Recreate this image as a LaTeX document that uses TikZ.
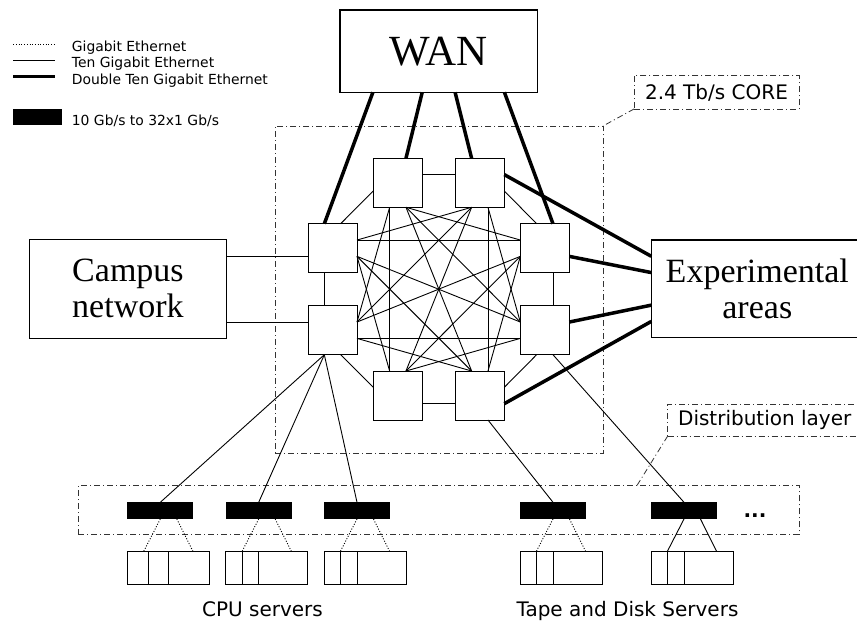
\documentclass[tikz,border=0pt]{standalone}
\usepackage{fontspec}
\setmainfont{Liberation Serif}
\newfontfamily\sansf{DejaVu Sans}
\usetikzlibrary{calc}
\tikzset{
  sq/.style={draw, line width=1pt, fill=white, minimum width=49pt, minimum height=49pt, inner sep=0pt, outer sep=0pt, anchor=north west},
  bigbox/.style={draw, line width=1.2pt, fill=white, inner sep=0pt, outer sep=0pt, anchor=north west, align=center, font=\fontsize{34}{36}\selectfont},
  thinl/.style={line width=0.9pt},
  thickl/.style={line width=3.5pt},
  gig/.style={line width=0.9pt, dash pattern=on 1pt off 1.7pt},
  dd/.style={draw=black!80, line width=0.8pt, dash pattern=on 6pt off 3pt on 1pt off 3pt},
  switchbox/.style={fill=black, minimum width=66pt, minimum height=16.7pt, inner sep=0pt, outer sep=0pt, anchor=north west},
  rackbox/.style={draw, line width=1pt, fill=white, minimum width=82pt, minimum height=33pt, inner sep=0pt, outer sep=0pt, anchor=north west},
  lbl/.style={font=\sansf\fontsize{20}{24}\selectfont},
  leg/.style={font=\sansf\fontsize{13.9}{16}\selectfont, anchor=base west, inner sep=0pt},
}
\begin{document}
\begin{tikzpicture}[x=1pt,y=-1pt]
\useasboundingbox (0,0) rectangle (857,622);
\fill[white] (0,0) rectangle (857,622);

% background areas
\node[dd, fill=white, minimum width=328pt, minimum height=327pt, inner sep=0pt, outer sep=0pt, anchor=north west] (core) at (275,126) {};
\node[dd, fill=white, minimum width=720.7pt, minimum height=49pt, inner sep=0pt, outer sep=0pt, anchor=north west] (dist) at (78.3,485.7) {};

% labels
\node[dd, fill=white, lbl, minimum width=165pt, minimum height=33.3pt, inner sep=0pt, outer sep=0pt, anchor=north west] (corelbl) at (634,75.7) {2.4 Tb/s CORE};
\node[dd, fill=white, lbl, minimum width=194pt, minimum height=32pt, inner sep=0pt, outer sep=0pt, anchor=north west] (distlbl) at (667.7,404) {Distribution layer};
\draw[dd] (corelbl.south west) -- (core.north east);
\draw[dd] (distlbl.south west) -- ($(dist.north west)!0.775!(dist.north east)$);

% big boxes
\node[bigbox, minimum width=197.3pt, minimum height=82.3pt, font=\fontsize{43}{46}\selectfont] (wan) at (340,10) {WAN};
\node[bigbox, minimum width=197.3pt, minimum height=99pt] (campus) at (29.3,239.3) {Campus\\network};
\node[bigbox, minimum width=212pt, minimum height=97.7pt] (exp) at (651.3,240) {Experimental\\areas};

% core routers
\node[sq] (TL) at (373.3,158.3) {};
\node[sq] (TR) at (455.3,158.3) {};
\node[sq] (LU) at (308,223.7) {};
\node[sq] (LL) at (308,305.7) {};
\node[sq] (RU) at (520.3,223.7) {};
\node[sq] (RL) at (520.3,305.7) {};
\node[sq] (BL) at (373.3,371) {};
\node[sq] (BR) at (455.3,371) {};

\foreach \n in {TL,TR,LU,LL,RU,RL,BL,BR}{
  \coordinate (\n-n1) at ($(\n.north west)!0.3333!(\n.north east)$);
  \coordinate (\n-n2) at ($(\n.north west)!0.6667!(\n.north east)$);
  \coordinate (\n-s1) at ($(\n.south west)!0.3333!(\n.south east)$);
  \coordinate (\n-s2) at ($(\n.south west)!0.6667!(\n.south east)$);
  \coordinate (\n-w1) at ($(\n.north west)!0.3333!(\n.south west)$);
  \coordinate (\n-w2) at ($(\n.north west)!0.6667!(\n.south west)$);
  \coordinate (\n-e1) at ($(\n.north east)!0.3333!(\n.south east)$);
  \coordinate (\n-e2) at ($(\n.north east)!0.6667!(\n.south east)$);
}

% ring
\draw[thinl] (TL-e1) -- (TR-w1);
\draw[thinl] (TR-e2) -- (RU-n1);
\draw[thinl] (RU-s2) -- (RL-n2);
\draw[thinl] (RL-s1) -- (BR-e1);
\draw[thinl] (BR-w2) -- (BL-e2);
\draw[thinl] (BL-w1) -- (LL-s2);
\draw[thinl] (LL-n1) -- (LU-s1);
\draw[thinl] (LU-n2) -- (TL-w2);

% mesh
\draw[thinl] (TL-s1) -- (BL-n1);
\draw[thinl] (TR-s2) -- (BR-n2);
\draw[thinl] (LU-e1) -- (RU-w1);
\draw[thinl] (LL-e2) -- (RL-w2);
\draw[thinl] (LL-e1) -- (TL-s1);
\draw[thinl] (LL-e1) -- (TR-s1);
\draw[thinl] (LL-e1) -- (RU-w2);
\draw[thinl] (LL-e2) -- (BR-n1);
\draw[thinl] (LU-e2) -- (BL-n1);
\draw[thinl] (LU-e2) -- (BR-n1);
\draw[thinl] (LU-e2) -- (RL-w1);
\draw[thinl] (LU-e1) -- (TR-s1);
\draw[thinl] (RU-w1) -- (TL-s2);
\draw[thinl] (RU-w2) -- (BR-n2);
\draw[thinl] (RU-w2) -- (BL-n2);
\draw[thinl] (RL-w1) -- (TR-s2);
\draw[thinl] (RL-w1) -- (TL-s2);
\draw[thinl] (RL-w2) -- (BL-n2);
\draw[thinl] (TL-s2) -- (BR-n1);
\draw[thinl] (TR-s1) -- (BL-n2);

% WAN links
\draw[thickl] ($(wan.south west)!0.1667!(wan.south east)$) -- (LU-n1);
\draw[thickl] ($(wan.south west)!0.4167!(wan.south east)$) -- (TL-n2);
\draw[thickl] ($(wan.south west)!0.5833!(wan.south east)$) -- (TR-n1);
\draw[thickl] ($(wan.south west)!0.8333!(wan.south east)$) -- (RU-n2);

% Experimental links
\draw[thickl] (TR-e1) -- ($(exp.north west)!0.1667!(exp.south west)$);
\draw[thickl] (RU-e2) -- ($(exp.north west)!0.3333!(exp.south west)$);
\draw[thickl] (RL-e1) -- ($(exp.north west)!0.6667!(exp.south west)$);
\draw[thickl] (BR-e2) -- ($(exp.north west)!0.8333!(exp.south west)$);

% Campus links
\draw[thinl] (LU-w2) -- (LU-w2 -| campus.east);
\draw[thinl] (LL-w1) -- (LL-w1 -| campus.east);

% distribution switches and racks
\foreach \i/\x in {1/127.3,2/225.7,3/324,4/520,5/651}{
  \node[switchbox] (sw\i) at (\x,502.3) {};
  \node[rackbox] (rk\i) at (\x,551.3) {};
}
\foreach \i/\a/\b in {1/21/41.3,2/16.7/33,3/16.7/33,4/16.7/33,5/16.7/33}{
  \draw[line width=1pt] ($(rk\i.north west)+(\a,0)$) -- ($(rk\i.south west)+(\a,0)$);
  \draw[line width=1pt] ($(rk\i.north west)+(\b,0)$) -- ($(rk\i.south west)+(\b,0)$);
}
\foreach \i in {1,2,3,4}{
  \draw[gig] (sw\i.south) -- ($(rk\i.north west)!0.2!(rk\i.north east)$);
  \draw[gig] ($(sw\i.south west)!0.75!(sw\i.south east)$) -- ($(rk\i.north west)!0.8!(rk\i.north east)$);
}
\draw[thinl] (sw5.south) -- ($(rk5.north west)!0.2!(rk5.north east)$);
\draw[thinl] ($(sw5.south west)!0.75!(sw5.south east)$) -- ($(rk5.north west)!0.8!(rk5.north east)$);

% uplinks
\draw[thinl] (LL-s1) -- (sw1.north);
\draw[thinl] (LL-s1) -- (sw2.north);
\draw[thinl] (LL-s1) -- (sw3.north);
\draw[thinl] (BR-s2) -- (sw4.north);
\draw[thinl] (RL-s2) -- (sw5.north);

\node[lbl, anchor=base, font=\sansf\bfseries\fontsize{20}{24}\selectfont] (dots) at (755,517) {...};
\node[lbl, anchor=base] (cpu) at (262.5,616) {CPU servers};
\node[lbl, anchor=base] (tape) at (627.5,616) {Tape and Disk Servers};

% legend
\coordinate (g1) at (13.3,44);  \coordinate (g2) at (55,44);
\coordinate (t1) at (13.3,60);  \coordinate (t2) at (55,60);
\coordinate (d1) at (13.3,76.7); \coordinate (d2) at (55,76.7);
\draw[gig] (g1) -- (g2);
\draw[thinl] (t1) -- (t2);
\draw[thickl] (d1) -- (d2);
\fill (13.3,109) rectangle (62.3,125);
\node[leg] (lg1) at (71.7,51) {Gigabit Ethernet};
\node[leg] (lg2) at (71.7,67.7) {Ten Gigabit Ethernet};
\node[leg] (lg3) at (71.7,84.5) {Double Ten Gigabit Ethernet};
\node[leg] (lg4) at (71.7,125) {10 Gb/s to 32x1 Gb/s};
\end{tikzpicture}
\end{document}
